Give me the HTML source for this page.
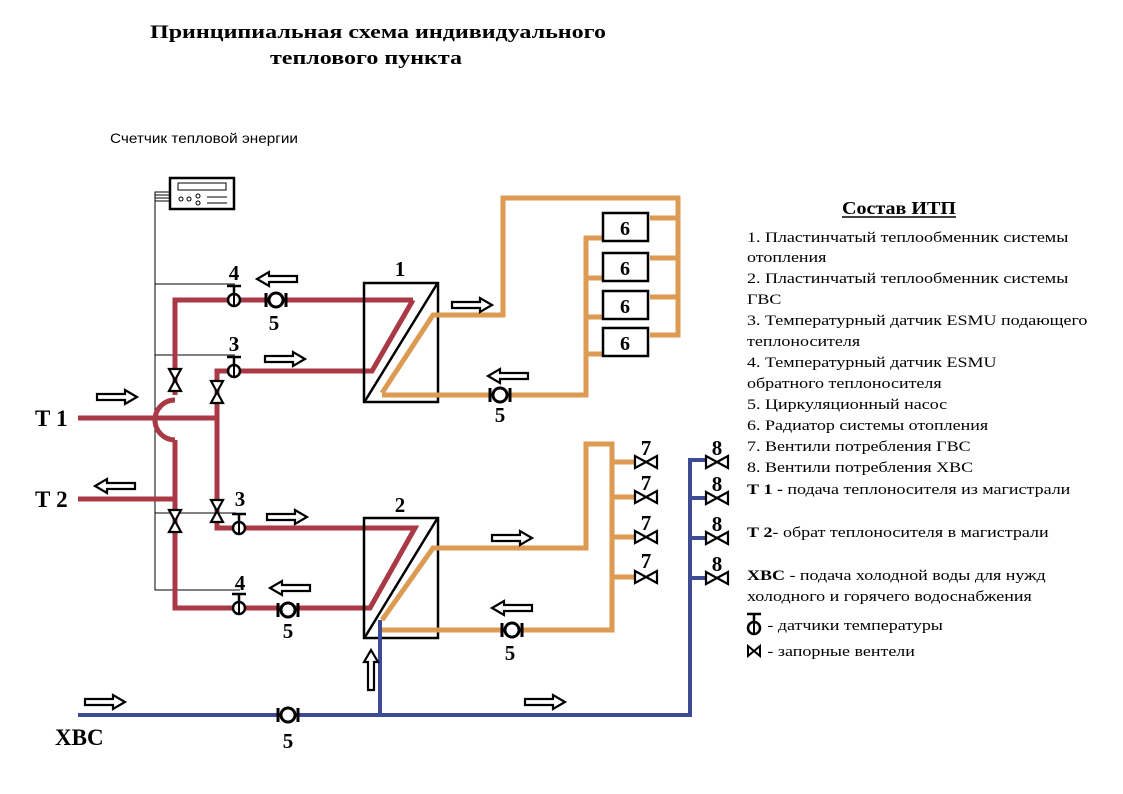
<!DOCTYPE html>
<html><head><meta charset="utf-8"><style>
html,body{margin:0;padding:0;background:#fff}
svg{display:block}
.s{font-family:"Liberation Serif",serif}
</style></head><body>
<svg width="1123" height="794" viewBox="0 0 1123 794" xmlns="http://www.w3.org/2000/svg">
<defs>
<g id="ar"><path d="M-20,-3 H8 V-7 L20,0 L8,7 V3 H-20 Z" fill="#fff" stroke="#000" stroke-width="2.2"/></g>
<g id="vv"><path d="M-6,-11 H6 L-6,11 H6 Z" fill="#fff" stroke="#000" stroke-width="2.2"/></g>
<g id="vh"><path d="M-11,-6 V6 L11,-6 V6 Z" fill="#fff" stroke="#000" stroke-width="2.2"/></g>
<g id="pm"><circle r="7" fill="#fff" stroke="#000" stroke-width="3"/><line x1="-10" y1="-7" x2="-10" y2="7" stroke="#000" stroke-width="3"/><line x1="10" y1="-7" x2="10" y2="7" stroke="#000" stroke-width="3"/></g>
<g id="ts"><circle r="6" fill="#fff" stroke="#000" stroke-width="2.5"/><line x1="0" y1="-6" x2="0" y2="6" stroke="#000" stroke-width="2"/><line x1="0" y1="-6" x2="0" y2="-14" stroke="#000" stroke-width="2.5"/><line x1="-7" y1="-14" x2="7" y2="-14" stroke="#000" stroke-width="2.5"/></g>
</defs>
<g class="s" font-weight="bold" font-size="19">
<text x="150" y="38" textLength="456" lengthAdjust="spacingAndGlyphs">Принципиальная схема индивидуального</text>
<text x="270" y="64" textLength="192" lengthAdjust="spacingAndGlyphs">теплового пункта</text>
</g>
<text x="110" y="143" font-family="Liberation Sans,sans-serif" font-size="14" textLength="188" lengthAdjust="spacingAndGlyphs">Счетчик тепловой энергии</text>
<!-- meter -->
<rect x="170" y="178" width="64" height="31" fill="#fff" stroke="#000" stroke-width="2.5"/>
<rect x="178" y="183" width="48" height="7" fill="none" stroke="#000" stroke-width="1"/>
<circle cx="181" cy="199" r="2" fill="none" stroke="#000"/><circle cx="189" cy="199" r="2" fill="none" stroke="#000"/><circle cx="198" cy="196" r="2" fill="none" stroke="#000"/><circle cx="198" cy="203" r="2" fill="none" stroke="#000"/>
<line x1="207" y1="197" x2="227" y2="197" stroke="#000"/><line x1="207" y1="203" x2="227" y2="203" stroke="#000"/>
<g stroke="#000" stroke-width="1" fill="none">
<path d="M170,192 H155 V590 H240 M155,195 H170 M155,198 H170 M155,201 H170 M155,284 H235 M155,355 H235 M155,513 H236"/>
</g>
<!-- red pipes -->
<g fill="none" stroke="#a93a45" stroke-width="5" stroke-linejoin="miter">
<path d="M413,300 H175 V395"/>
<path d="M175,400 A20,20 0 0 0 175,440"/>
<path d="M175,440 V608 H370 L415,528 H217 V371 H372 L413,300"/>
<path d="M78,418 H217"/>
<path d="M78,499 H175"/>
</g>
<!-- HX boxes -->
<rect x="364" y="283" width="74" height="119" fill="none" stroke="#000" stroke-width="2.5"/>
<line x1="437" y1="284" x2="365" y2="401" stroke="#000" stroke-width="2.5"/>
<rect x="364" y="518" width="74" height="120" fill="none" stroke="#000" stroke-width="2.5"/>
<line x1="437" y1="519" x2="365" y2="637" stroke="#000" stroke-width="2.5"/>
<!-- orange pipes -->
<g fill="none" stroke="#dc9a52" stroke-width="5">
<path d="M382,393 L433,315 H503 V198 H678 V335 H650"/>
<path d="M650,218 H678 M650,258 H678 M650,297 H678"/>
<path d="M382,395 H586 V238 H603 M586,278 H603 M586,317 H603 M586,354 H603"/>
<path d="M382,620 L433,548 H586 V444 H612 V630 H382"/>
<path d="M612,462 H635 M612,497 H635 M612,537 H635 M612,577 H635"/>
</g>
<!-- radiators -->
<g fill="#fff" stroke="#000" stroke-width="2.5">
<rect x="603" y="213" width="45" height="28"/><rect x="603" y="253" width="45" height="28"/><rect x="603" y="291" width="45" height="28"/><rect x="603" y="328" width="45" height="28"/>
</g>
<g class="s" font-weight="bold" font-size="20" text-anchor="middle">
<text x="625" y="235">6</text><text x="625" y="275">6</text><text x="625" y="313">6</text><text x="625" y="350">6</text>
</g>
<!-- blue -->
<g fill="none" stroke="#3d4a96" stroke-width="4">
<path d="M78,715 H690 V460 H706 M690,498 H706 M690,538 H706 M690,578 H706"/>
<path d="M380,715 V620"/>
</g>
<!-- valves -->
<use href="#vv" x="175" y="380"/><use href="#vv" x="217" y="392"/><use href="#vv" x="217" y="511"/><use href="#vv" x="175" y="521"/>
<use href="#vh" x="646" y="462"/><use href="#vh" x="646" y="497"/><use href="#vh" x="646" y="537"/><use href="#vh" x="646" y="577"/>
<use href="#vh" x="717" y="462"/><use href="#vh" x="717" y="498"/><use href="#vh" x="717" y="538"/><use href="#vh" x="717" y="578"/>
<!-- sensors -->
<use href="#ts" x="234" y="300"/><use href="#ts" x="234" y="371"/><use href="#ts" x="239" y="528"/><use href="#ts" x="239" y="608"/>
<!-- pumps -->
<use href="#pm" x="276" y="300"/><use href="#pm" x="288" y="610"/><use href="#pm" x="500" y="395"/><use href="#pm" x="512" y="630"/><use href="#pm" x="288" y="715"/>
<!-- arrows -->
<use href="#ar" x="277" y="279" transform="rotate(180 277 279)"/>
<use href="#ar" x="285" y="359"/>
<use href="#ar" x="117" y="397"/>
<use href="#ar" x="115" y="486" transform="rotate(180 115 486)"/>
<use href="#ar" x="287" y="517"/>
<use href="#ar" x="290" y="588" transform="rotate(180 290 588)"/>
<use href="#ar" x="472" y="305"/>
<use href="#ar" x="508" y="376" transform="rotate(180 508 376)"/>
<use href="#ar" x="512" y="538"/>
<use href="#ar" x="512" y="608" transform="rotate(180 512 608)"/>
<use href="#ar" x="105" y="702"/>
<use href="#ar" x="545" y="702"/>
<use href="#ar" x="371" y="670" transform="rotate(-90 371 670)"/>
<!-- numbers -->
<g class="s" font-weight="bold" font-size="21" text-anchor="middle">
<text x="234" y="280">4</text><text x="274" y="330">5</text><text x="234" y="351">3</text>
<text x="240" y="506">3</text><text x="240" y="590">4</text><text x="288" y="638">5</text>
<text x="400" y="276">1</text><text x="400" y="512">2</text>
<text x="500" y="422">5</text><text x="510" y="660">5</text><text x="288" y="748">5</text>
<text x="646" y="455">7</text><text x="646" y="490">7</text><text x="646" y="530">7</text><text x="646" y="568">7</text>
<text x="717" y="455">8</text><text x="717" y="491">8</text><text x="717" y="531">8</text><text x="717" y="571">8</text>
</g>
<g class="s" font-weight="bold" font-size="23">
<text x="35" y="426">Т 1</text><text x="35" y="507">Т 2</text><text x="55" y="745">ХВС</text>
</g>
<!-- legend -->
<text x="842" y="214" class="s" font-weight="bold" font-size="18" textLength="114" lengthAdjust="spacingAndGlyphs">Состав ИТП</text>
<line x1="842" y1="217" x2="956" y2="217" stroke="#000" stroke-width="1.5"/>
<g class="s" font-size="15" transform="translate(747,0) scale(1.2,1) translate(-747,0)">
<text x="747" y="242">1. Пластинчатый теплообменник системы</text>
<text x="747" y="262">отопления</text>
<text x="747" y="283">2. Пластинчатый теплообменник системы</text>
<text x="747" y="304">ГВС</text>
<text x="747" y="325">3. Температурный датчик ESMU подающего</text>
<text x="747" y="346">теплоносителя</text>
<text x="747" y="367">4. Температурный датчик ESMU</text>
<text x="747" y="388">обратного теплоносителя</text>
<text x="747" y="409">5. Циркуляционный насос</text>
<text x="747" y="430">6. Радиатор системы отопления</text>
<text x="747" y="451">7. Вентили потребления ГВС</text>
<text x="747" y="472">8. Вентили потребления ХВС</text>
<text x="747" y="494"><tspan font-weight="bold">Т 1 -</tspan> подача теплоносителя из магистрали</text>
<text x="747" y="537"><tspan font-weight="bold">Т 2</tspan>- обрат теплоносителя в магистрали</text>
<text x="747" y="580"><tspan font-weight="bold">ХВС</tspan> - подача холодной воды для нужд</text>
<text x="747" y="601">холодного и горячего водоснабжения</text>
<text x="764" y="630">- датчики температуры</text>
<text x="764" y="656">- запорные вентели</text>
</g>
<use href="#ts" x="754" y="628"/>
<path d="M748,646 V656 L760,646 V656 Z" fill="#fff" stroke="#000" stroke-width="2"/>
</svg>
</body></html>
